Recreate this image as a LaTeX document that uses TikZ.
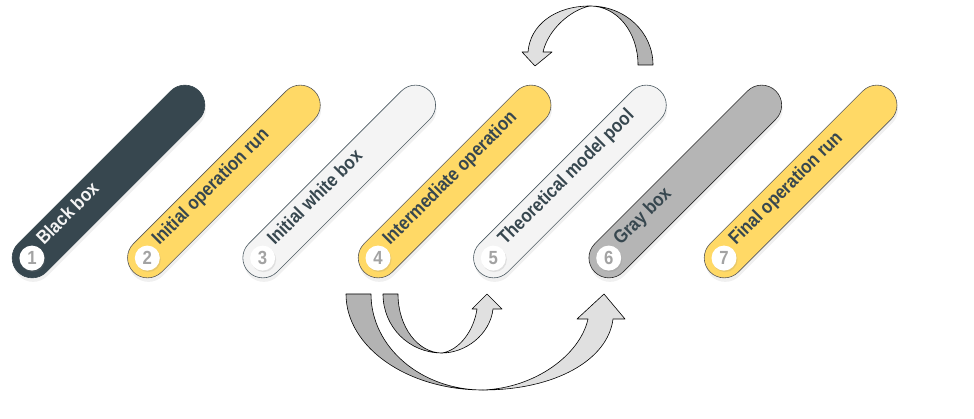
\documentclass[tikz,border=0pt]{standalone}
\usepackage{fontspec}
\setmainfont{Liberation Sans}
\newfontfamily\pillfont[FakeStretch=0.88]{Liberation Sans}
\usetikzlibrary{calc,shadows}
\definecolor{slate}{HTML}{37474F}
\definecolor{sunny}{HTML}{FFD966}
\definecolor{paper}{HTML}{F4F4F4}
\definecolor{midgray}{HTML}{B5B5B5}
\definecolor{numgray}{HTML}{A3A3A3}
\definecolor{bandback}{HTML}{B3B3B3}
\definecolor{bandfront}{HTML}{E0E0E0}
\tikzset{
    pill/.style={draw, line width=0.6pt, rounded corners=20pt, minimum width=256pt,
        minimum height=40pt, rotate=45,
        drop shadow={opacity=0.12, shadow xshift=1pt, shadow yshift=-4pt}},
    numdot/.style={circle, fill=white, minimum size=25pt, inner sep=0pt,
        text=numgray, font=\pillfont\bfseries\fontsize{19}{19}\selectfont,
        drop shadow={opacity=0.18, shadow xshift=1pt, shadow yshift=-1.5pt}},
    pilltext/.style={rotate=45, anchor=base west, inner sep=0pt, text=slate,
        font=\pillfont\bfseries\fontsize{19}{21}\selectfont}
}

\begin{document}
\begin{tikzpicture}[
    x=1pt, y=-1pt,
    back/.style={fill=bandback, draw=black, line width=0.6pt, line join=round},
    front/.style={fill=bandfront, draw=black, line width=0.6pt, line join=round}
]
\useasboundingbox (0,0) rectangle (974,419);

\node[pill, fill=slate, draw=slate] (pill1) at (108.5,181.5) {};
\node[numdot] (num1) at ($(pill1.west)!20pt!(pill1.east)$) {1};
\node[pilltext, text=paper] (lbl1) at ($(pill1.west)!37pt!(pill1.east)$) {Black box};

\node[pill, fill=sunny, draw=black!65] (pill2) at (223.9,181.5) {};
\node[numdot] (num2) at ($(pill2.west)!20pt!(pill2.east)$) {2};
\node[pilltext] (lbl2) at ($(pill2.west)!37pt!(pill2.east)$) {Initial operation run};

\node[pill, fill=paper, draw=slate!90] (pill3) at (339.2,181.5) {};
\node[numdot] (num3) at ($(pill3.west)!20pt!(pill3.east)$) {3};
\node[pilltext] (lbl3) at ($(pill3.west)!37pt!(pill3.east)$) {Initial white box};

\node[pill, fill=sunny, draw=black!65] (pill4) at (454.6,181.5) {};
\node[numdot] (num4) at ($(pill4.west)!20pt!(pill4.east)$) {4};
\node[pilltext] (lbl4) at ($(pill4.west)!37pt!(pill4.east)$) {Intermediate operation};

\node[pill, fill=paper, draw=slate!90] (pill5) at (569.9,181.5) {};
\node[numdot] (num5) at ($(pill5.west)!20pt!(pill5.east)$) {5};
\node[pilltext] (lbl5) at ($(pill5.west)!37pt!(pill5.east)$) {Theoretical model pool};

\node[pill, fill=midgray, draw=black!85] (pill6) at (685.3,181.5) {};
\node[numdot] (num6) at ($(pill6.west)!20pt!(pill6.east)$) {6};
\node[pilltext] (lbl6) at ($(pill6.west)!37pt!(pill6.east)$) {Gray box};

\node[pill, fill=sunny, draw=black!65] (pill7) at (800.6,181.5) {};
\node[numdot] (num7) at ($(pill7.west)!20pt!(pill7.east)$) {7};
\node[pilltext] (lbl7) at ($(pill7.west)!37pt!(pill7.east)$) {Final operation run};

\draw[back] (346,294) -- (371,294) .. controls (371,347) and (421,390) .. (483,390)
    .. controls (407,390) and (346,347) .. cycle;
\draw[front] (483,390) .. controls (555,390) and (608,360) .. (613,319) -- (625,319)
    -- (604,294) -- (577,319) -- (588,319) .. controls (580,355) and (535,388) .. cycle;

\draw[back] (383,294) -- (398,294) .. controls (398,327) and (418,353) .. (442,353)
    .. controls (409,353) and (383,327) .. cycle;
\draw[front] (442,353) .. controls (465,353) and (490,335) .. (493,309) -- (502,309)
    -- (487,294) -- (472,309) -- (477,309) .. controls (474,330) and (460,350) .. cycle;

\draw[back] (653,65) -- (638,65) .. controls (638,32) and (617,6) .. (590,6)
    .. controls (625,6) and (653,32) .. cycle;
\draw[front] (590,6) .. controls (555,6) and (530,25) .. (528,52) -- (522,52)
    -- (535,66) -- (552,52) -- (543,52) .. controls (548,30) and (570,10) .. cycle;
\end{tikzpicture}
\end{document}
